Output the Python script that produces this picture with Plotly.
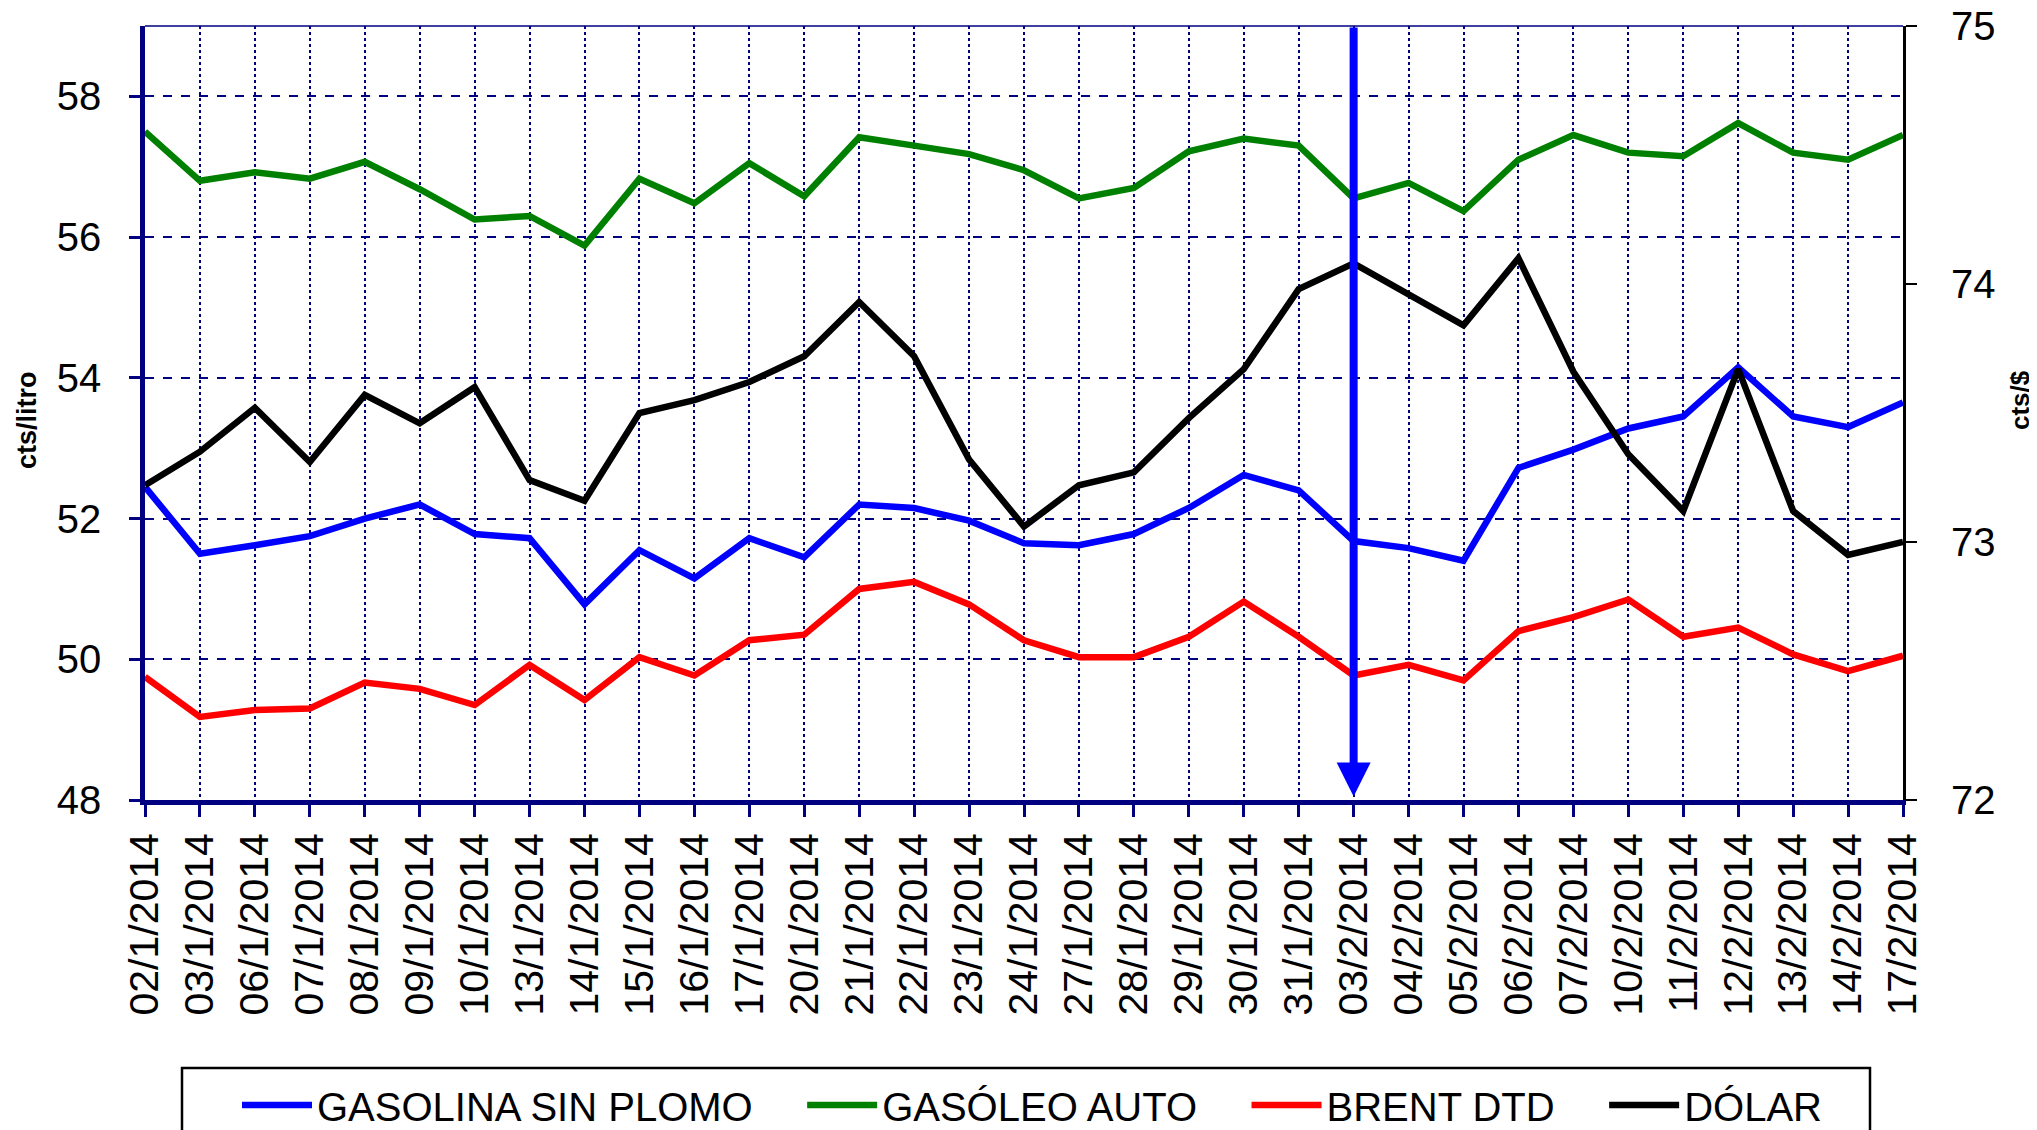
import plotly.graph_objects as go

fechas = ["02/1/2014", "03/1/2014", "06/1/2014", "07/1/2014", "08/1/2014", "09/1/2014",
          "10/1/2014", "13/1/2014", "14/1/2014", "15/1/2014", "16/1/2014", "17/1/2014",
          "20/1/2014", "21/1/2014", "22/1/2014", "23/1/2014", "24/1/2014", "27/1/2014",
          "28/1/2014", "29/1/2014", "30/1/2014", "31/1/2014", "03/2/2014", "04/2/2014",
          "05/2/2014", "06/2/2014", "07/2/2014", "10/2/2014", "11/2/2014", "12/2/2014",
          "13/2/2014", "14/2/2014", "17/2/2014"]

gasolina = [52.45, 51.50, 51.62, 51.75, 52.00, 52.20, 51.78, 51.72, 50.78, 51.55, 51.15,
            51.72, 51.45, 52.20, 52.15, 51.97, 51.65, 51.62, 51.78, 52.15, 52.62, 52.40,
            51.68, 51.58, 51.40, 52.72, 52.98, 53.28, 53.45, 54.15, 53.45, 53.30, 53.65]

gasoleo = [57.50, 56.80, 56.92, 56.83, 57.07, 56.68, 56.25, 56.30, 55.88, 56.83, 56.48,
           57.05, 56.58, 57.42, 57.30, 57.18, 56.95, 56.55, 56.70, 57.22, 57.40, 57.30,
           56.55, 56.77, 56.37, 57.10, 57.45, 57.20, 57.15, 57.62, 57.20, 57.10, 57.45]

brent = [49.75, 49.18, 49.28, 49.30, 49.67, 49.58, 49.35, 49.92, 49.42, 50.03, 49.77,
         50.27, 50.35, 51.00, 51.10, 50.78, 50.27, 50.03, 50.03, 50.32, 50.82, 50.32,
         49.77, 49.92, 49.70, 50.40, 50.60, 50.85, 50.32, 50.45, 50.07, 49.83, 50.05]

dolar = [73.22, 73.35, 73.52, 73.31, 73.57, 73.46, 73.60, 73.24, 73.16, 73.50, 73.55,
         73.62, 73.72, 73.93, 73.72, 73.32, 73.06, 73.22, 73.27, 73.48, 73.67, 73.98,
         74.08, 73.96, 73.84, 74.10, 73.66, 73.34, 73.12, 73.67, 73.12, 72.95, 73.00]

marca_fecha = "03/2/2014"

ticks_izq = [48, 50, 52, 54, 56, 58]
ticks_der = [72, 73, 74, 75]

NAVY = "#000080"
FONT = "Liberation Sans, Arial, sans-serif"
PAD = "\u00a0" * 4

# plot area in page pixels: x 145..1903, y 26..800 (page has an 8px body margin)
PL, PR, PT, PB = 145, 1903, 26, 800
PW, PH = PR - PL, PB - PT


def px(xp):
    return (xp - PL) / PW


def py(yp):
    return (PB - yp) / PH


fig = go.Figure()
fig.add_trace(go.Scatter(x=fechas, y=gasolina, name="GASOLINA SIN PLOMO" + PAD, mode="lines",
                         line=dict(color="#0000FF", width=6.5)))
fig.add_trace(go.Scatter(x=fechas, y=gasoleo, name="GASÓLEO AUTO" + PAD, mode="lines",
                         line=dict(color="#008000", width=6.5)))
fig.add_trace(go.Scatter(x=fechas, y=brent, name="BRENT DTD" + PAD, mode="lines",
                         line=dict(color="#FF0000", width=6.5)))
fig.add_trace(go.Scatter(x=fechas, y=dolar, name="DÓLAR", mode="lines", yaxis="y2",
                         line=dict(color="#000000", width=6.5)))

idx = fechas.index(marca_fecha)
fig.add_annotation(x=idx, y=48.05, ax=idx, ay=59, xref="x", yref="y", axref="x", ayref="y",
                   showarrow=True, arrowhead=2, arrowsize=0.85, arrowwidth=8,
                   arrowcolor="#0000FF", text="")

fig.add_annotation(text="<b>cts/litro</b>", xref="paper", yref="paper",
                   x=px(27), y=py(420), xanchor="center", yanchor="middle",
                   textangle=-90, showarrow=False,
                   font=dict(size=27, family=FONT, color="black"))
fig.add_annotation(text="<b>cts/$</b>", xref="paper", yref="paper",
                   x=px(2020), y=py(400), xanchor="center", yanchor="middle",
                   textangle=-90, showarrow=False,
                   font=dict(size=26, family=FONT, color="black"))

fig.add_shape(type="line", xref="paper", yref="paper", x0=0, x1=1, y0=1, y1=1,
              line=dict(color=NAVY, width=1.5))
fig.add_shape(type="rect", xref="paper", yref="paper",
              x0=px(182), x1=px(1870), y0=py(1068), y1=py(1200),
              line=dict(color="black", width=2.5), fillcolor="rgba(0,0,0,0)")

fig.update_layout(
    width=2037, height=1130,
    margin=dict(l=PL - 8, r=2037 - (PR - 8), t=PT - 8, b=1130 - (PB - 8)),
    paper_bgcolor="white", plot_bgcolor="white",
    font=dict(family=FONT, color="black"),
    xaxis=dict(type="category", range=[0, len(fechas) - 1], tickangle=-90,
               tickfont=dict(size=41, family=FONT), showgrid=True, gridcolor=NAVY,
               gridwidth=1.5, griddash="dot", showline=True, linecolor=NAVY, linewidth=4.5,
               ticks="outside", ticklen=12, tickwidth=3, tickcolor=NAVY, zeroline=False,
               automargin=False, ticklabelstandoff=0, ticklabeloverflow="allow"),
    xaxis2=dict(overlaying="x", side="bottom", type="linear", range=[0, len(fechas) - 1],
                tickvals=list(range(len(fechas))), ticks="inside", ticklen=10, tickwidth=3,
                tickcolor=NAVY, showticklabels=False, showgrid=False, showline=False,
                zeroline=False, automargin=False),
    yaxis=dict(range=[48, 59], tickvals=ticks_izq, showgrid=True,
               gridcolor=NAVY, gridwidth=1.5, griddash="dash", showline=True,
               linecolor=NAVY, linewidth=4.5, ticks="outside", ticklen=11, tickwidth=3,
               tickcolor=NAVY, tickfont=dict(size=40, family=FONT), zeroline=False,
               automargin=False, ticklabelstandoff=20, ticklabeloverflow="allow"),
    yaxis2=dict(range=[72, 75], tickvals=ticks_der, overlaying="y", side="right",
                showgrid=False, showline=True, linecolor="black", linewidth=3,
                ticks="outside", ticklen=11, tickwidth=2, tickcolor="black",
                tickfont=dict(size=40, family=FONT), zeroline=False,
                automargin=False, ticklabelstandoff=26, ticklabeloverflow="allow"),
    yaxis3=dict(range=[48, 59], tickvals=ticks_izq, overlaying="y", side="left",
                ticks="inside", ticklen=11, tickwidth=3, tickcolor=NAVY,
                showticklabels=False, showgrid=False, showline=False, zeroline=False,
                automargin=False),
    yaxis4=dict(range=[72, 75], tickvals=ticks_der, overlaying="y", side="right",
                ticks="inside", ticklen=11, tickwidth=2, tickcolor="black",
                showticklabels=False, showgrid=False, showline=False, zeroline=False,
                automargin=False),
    legend=dict(orientation="h", xref="container", yref="container",
                x=(237 - 8) / 2037, xanchor="left",
                y=1 - (1105 - 8) / 1130, yanchor="middle",
                borderwidth=0, bgcolor="rgba(0,0,0,0)", font=dict(size=40, family=FONT),
                itemwidth=70, traceorder="normal"),
    showlegend=True,
)

fig.write_html("out.html")
